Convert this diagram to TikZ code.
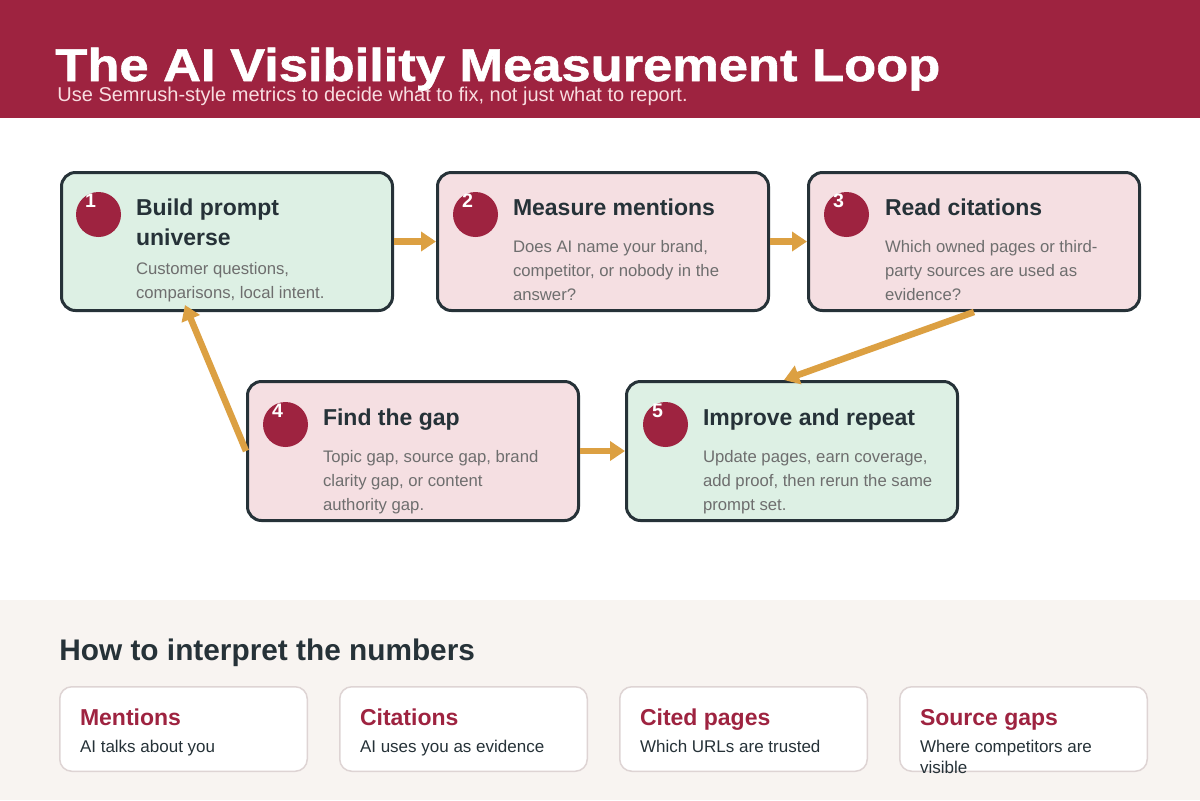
\documentclass[tikz,border=0pt]{standalone}
\usepackage{fontspec}
\setmainfont{Liberation Sans}
\newfontfamily\headfont[FakeStretch=1.14, FakeBold=1.3]{Liberation Sans}
\usepackage{tikz}
\usetikzlibrary{positioning,arrows.meta}
\usepackage{xcolor}
\definecolor{headred}{HTML}{9E2340}
\definecolor{subpink}{HTML}{F8DDE0}
\definecolor{inkdark}{HTML}{263238}
\definecolor{descgray}{HTML}{6E6E6E}
\definecolor{stepgreen}{HTML}{DDF0E4}
\definecolor{steppink}{HTML}{F5DFE2}
\definecolor{loopgold}{HTML}{DCA042}
\definecolor{footbg}{HTML}{F8F4F1}
\definecolor{cardline}{HTML}{DED4D4}

\begin{document}
\begin{tikzpicture}[
  x=0.5pt, y=-0.5pt,
  stepbox/.style={draw=inkdark, line width=1.5pt, rounded corners=7pt, minimum width=165.5pt, minimum height=69pt, anchor=north west, inner sep=0pt},
  numdot/.style={circle, fill=headred, minimum size=22.5pt, inner sep=0pt},
  numtxt/.style={text=white, inner sep=0pt, font=\bfseries\fontsize{9.8}{11}\selectfont},
  steptitle/.style={anchor=north west, align=left, inner sep=0pt, outer sep=0pt, text depth=0pt, text=inkdark, font=\bfseries\fontsize{11.5}{15}\selectfont},
  stepdesc/.style={align=left, inner sep=0pt, outer sep=0pt, text=descgray, font=\fontsize{8.35}{12}\selectfont},
  card/.style={draw=cardline, line width=0.75pt, fill=white, rounded corners=6pt, minimum width=123.75pt, minimum height=42.25pt, anchor=north west, inner sep=0pt},
  cardtitle/.style={anchor=base west, inner sep=0pt, outer sep=0pt, text depth=0pt, text=headred, font=\bfseries\fontsize{11.5}{14}\selectfont},
  carddesc/.style={align=left, inner sep=0pt, outer sep=0pt, text=inkdark, font=\fontsize{8.5}{10.5}\selectfont},
  arr/.style={-{Triangle[length=7.5pt, width=9.5pt]}, line width=3.25pt, color=loopgold}
]
\useasboundingbox (0,0) rectangle (1200,800);
\fill[white] (0,0) rectangle (1200,800);
\fill[headred] (0,0) rectangle (1200,118);
\fill[footbg] (0,600) rectangle (1200,800);

% header
\node[anchor=base west, inner sep=0pt, text=white, font=\headfont\bfseries\fontsize{23}{26}\selectfont] (title) at (55,81) {The AI Visibility Measurement Loop};
\node[anchor=base west, inner sep=0pt, text=subpink, font=\fontsize{10}{12}\selectfont] (subtitle) at (57,101.5) {Use Semrush-style metrics to decide what to fix, not just what to report.};

% loop steps
\node[stepbox, fill=stepgreen] (b1) at (60,171) {};
\node[stepbox, fill=steppink] (b2) at (436,171) {};
\node[stepbox, fill=steppink] (b3) at (807,171) {};
\node[stepbox, fill=steppink, minimum height=69.5pt] (b4) at (246,380) {};
\node[stepbox, fill=stepgreen, minimum height=69.5pt] (b5) at (625,380) {};

\node[numdot] (d1) at ([shift={(38.5,43.5)}]b1.north west) {};
\node[numdot] (d2) at ([shift={(39.5,43.5)}]b2.north west) {};
\node[numdot] (d3) at ([shift={(39.5,43.5)}]b3.north west) {};
\node[numdot] (d4) at ([shift={(39.5,44.5)}]b4.north west) {};
\node[numdot] (d5) at ([shift={(40.5,44.5)}]b5.north west) {};
\node[numtxt] (n1) at ([shift={(-8,-13.5)}]d1.center) {1};
\node[numtxt] (n2) at ([shift={(-8,-13.5)}]d2.center) {2};
\node[numtxt] (n3) at ([shift={(-8,-13.5)}]d3.center) {3};
\node[numtxt] (n4) at ([shift={(-8,-13.5)}]d4.center) {4};
\node[numtxt] (n5) at ([shift={(-8,-13.5)}]d5.center) {5};

\node[steptitle] (t1) at ([shift={(76,27.5)}]b1.north west) {Build prompt\\universe};
\node[steptitle] (t2) at ([shift={(77,27.5)}]b2.north west) {Measure mentions};
\node[steptitle] (t3) at ([shift={(78,27.5)}]b3.north west) {Read citations};
\node[steptitle] (t4) at ([shift={(77,28.5)}]b4.north west) {Find the gap};
\node[steptitle] (t5) at ([shift={(78,28.5)}]b5.north west) {Improve and repeat};

\node[stepdesc, below right=8.5pt and 0pt of t1.south west] (s1) {Customer questions,\\comparisons, local intent.};
\node[stepdesc, below right=12.5pt and 0pt of t2.south west] (s2) {Does AI name your brand,\\competitor, or nobody in the\\answer?};
\node[stepdesc, below right=12.5pt and 0pt of t3.south west] (s3) {Which owned pages or third-\\party sources are used as\\evidence?};
\node[stepdesc, below right=12.5pt and 0pt of t4.south west] (s4) {Topic gap, source gap, brand\\clarity gap, or content\\authority gap.};
\node[stepdesc, below right=12.5pt and 0pt of t5.south west] (s5) {Update pages, earn coverage,\\add proof, then rerun the same\\prompt set.};

\draw[arr] (b1.east) -- (b2.west);
\draw[arr] (b2.east) -- (b3.west);
\draw[arr] (b3.south) -- ([xshift=-4pt]b5.north);
\draw[arr] (b4.west) -- ([shift={(-42,-7)}]b1.south);
\draw[arr] (b4.east) -- (b5.west);

% how to read the numbers
\node[anchor=base west, inner sep=0pt, text=inkdark, font=\bfseries\fontsize{14.9}{18}\selectfont] (howto) at (59,660) {How to interpret the numbers};

\node[card] (c1) at (59,686) {};
\node[card] (c2) at (339,686) {};
\node[card] (c3) at (619,686) {};
\node[card] (c4) at (899,686) {};

\node[cardtitle] (k1) at ([shift={(21,39)}]c1.north west) {Mentions};
\node[cardtitle] (k2) at ([shift={(21,39)}]c2.north west) {Citations};
\node[cardtitle] (k3) at ([shift={(21,39)}]c3.north west) {Cited pages};
\node[cardtitle] (k4) at ([shift={(21,39)}]c4.north west) {Source gaps};

\node[carddesc, below right=7.5pt and 0pt of k1.south west] (m1) {AI talks about you};
\node[carddesc, below right=7.5pt and 0pt of k2.south west] (m2) {AI uses you as evidence};
\node[carddesc, below right=7.5pt and 0pt of k3.south west] (m3) {Which URLs are trusted};
\node[carddesc, below right=7.5pt and 0pt of k4.south west] (m4) {Where competitors are\\visible};
\end{tikzpicture}
\end{document}
